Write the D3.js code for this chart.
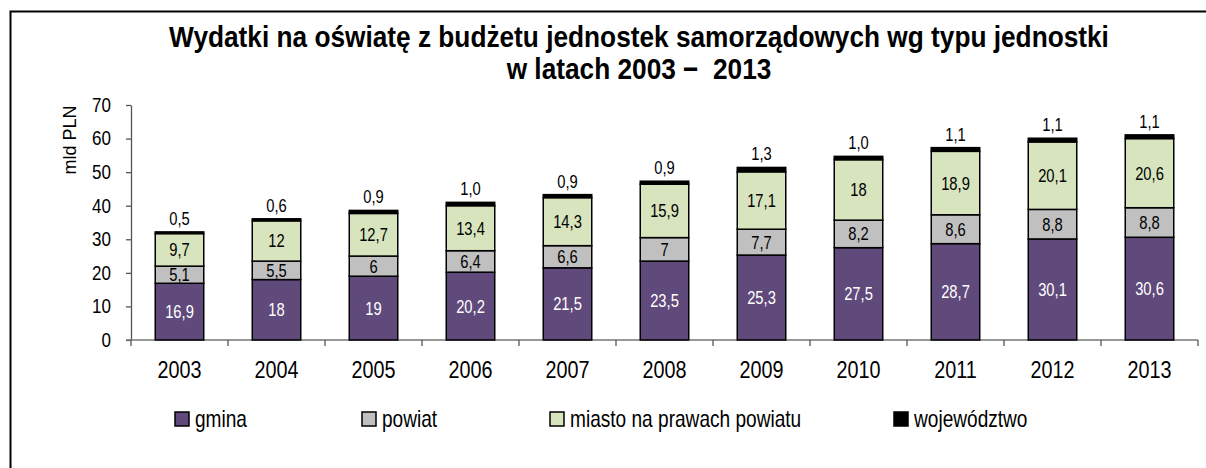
<!DOCTYPE html>
<html>
<head>
<meta charset="utf-8">
<script src="https://cdn.jsdelivr.net/npm/d3@7"></script>
<style>
  body { margin: 0; background: #fff; }
  text { font-family: "Liberation Sans", Arial, sans-serif; }
</style>
</head>
<body>
<script>
var years = ['2003', '2004', '2005', '2006', '2007', '2008', '2009', '2010', '2011', '2012', '2013'];
var gmina = [16.9, 18, 19, 20.2, 21.5, 23.5, 25.3, 27.5, 28.7, 30.1, 30.6];
var powiat = [5.1, 5.5, 6, 6.4, 6.6, 7, 7.7, 8.2, 8.6, 8.8, 8.8];
var miasto = [9.7, 12, 12.7, 13.4, 14.3, 15.9, 17.1, 18, 18.9, 20.1, 20.6];
var wojewodztwo = [0.5, 0.6, 0.9, 1.0, 0.9, 0.9, 1.3, 1.0, 1.1, 1.1, 1.1];
var seriesNames = ['gmina', 'powiat', 'miasto na prawach powiatu', 'województwo'];
var seriesColors = ['#604a7b', '#c0c0c0', '#d7e4bd', '#000000'];
var yTicks = [0, 10, 20, 30, 40, 50, 60, 70];

var W = 1206, H = 468;

var svg = d3.select('body').append('svg')
  .attr('width', W)
  .attr('height', H);

// outer frame
svg.append('rect')
  .attr('x', 10.5).attr('y', 11.5)
  .attr('width', 1400).attr('height', 700)
  .attr('fill', 'none')
  .attr('stroke', '#000')
  .attr('stroke-width', 2);

// text in the reference is squeezed horizontally, sx is the squeeze
function label(g, x, y, txt, sx) {
  return g.append('text')
    .attr('transform', 'translate(' + x + ',' + y + ') scale(' + sx + ',1)')
    .text(txt);
}

// title
label(svg, 639, 47, 'Wydatki na oświatę z budżetu jednostek samorządowych wg typu jednostki', 0.875)
  .attr('text-anchor', 'middle').style('font-size', '30px').style('font-weight', 'bold');
label(svg, 639, 79, 'w latach 2003 −  2013', 0.875)
  .attr('text-anchor', 'middle').style('font-size', '30px').style('font-weight', 'bold')
  .style('white-space', 'pre');

var data = years.map(function (y, i) {
  return { year: y, gmina: gmina[i], powiat: powiat[i], miasto: miasto[i], woj: wojewodztwo[i] };
});
var keys = ['gmina', 'powiat', 'miasto', 'woj'];
var stacked = d3.stack().keys(keys)(data);

var x = d3.scaleBand()
  .domain(years)
  .range([131, 1198])
  .paddingInner(0.5)
  .paddingOuter(0.25);

var y = d3.scaleLinear()
  .domain([0, 70])
  .range([340, 105]);

// y axis
var ysx = 0.85;
var yAxis = svg.append('g')
  .attr('transform', 'translate(131,0)')
  .call(d3.axisLeft(y).tickValues(yTicks).tickSize(5).tickPadding(20).tickSizeOuter(0));
yAxis.select('.domain').attr('stroke', '#555').attr('stroke-width', 1.3);
yAxis.selectAll('.tick line').attr('stroke', '#555').attr('stroke-width', 1.3);
yAxis.selectAll('.tick text')
  .attr('x', -20 / ysx)
  .attr('transform', 'scale(' + ysx + ',1)')
  .style('font-size', '20px')
  .attr('fill', '#000');

svg.append('text')
  .attr('transform', 'translate(76,140) rotate(-90)')
  .attr('text-anchor', 'middle')
  .style('font-size', '18px')
  .text('mld PLN');

// x axis line and boundary ticks
var step = x.step();
var bounds = years.map(function (yr) { return x(yr) - x.paddingOuter() * step; });
bounds.push(x.range()[1]);
var xAxis = svg.append('g');
xAxis.append('line')
  .attr('x1', 126).attr('x2', x.range()[1])
  .attr('y1', y(0)).attr('y2', y(0))
  .attr('stroke', '#777').attr('stroke-width', 1.5);
xAxis.selectAll('.btick')
  .data(bounds)
  .enter()
  .append('line')
  .attr('class', 'btick')
  .attr('x1', function (d) { return d; })
  .attr('x2', function (d) { return d; })
  .attr('y1', y(0))
  .attr('y2', y(0) + 6)
  .attr('stroke', '#555').attr('stroke-width', 1.3);
xAxis.selectAll('.xlab')
  .data(years)
  .enter()
  .append('text')
  .attr('class', 'xlab')
  .attr('text-anchor', 'middle')
  .attr('transform', function (d) {
    return 'translate(' + (x(d) + x.bandwidth() / 2) + ',378) scale(0.86,1)';
  })
  .style('font-size', '23px')
  .text(function (d) { return d; });

// bars
var fmt = function (v) { return String(v).replace('.', ','); };
var layers = svg.selectAll('.layer')
  .data(stacked)
  .enter()
  .append('g')
  .attr('class', 'layer')
  .attr('fill', function (d, i) { return seriesColors[i]; });

layers.selectAll('rect')
  .data(function (d) { return d; })
  .enter()
  .append('rect')
  .attr('x', function (d) { return x(d.data.year); })
  .attr('width', x.bandwidth())
  .attr('y', function (d) { return y(d[1]); })
  .attr('height', function (d) { return y(d[0]) - y(d[1]); })
  .attr('stroke', '#000')
  .attr('stroke-width', 1.5);

// value labels
stacked.forEach(function (layer, li) {
  var g = svg.append('g');
  layer.forEach(function (d) {
    var cx = x(d.data.year) + x.bandwidth() / 2;
    var val = d.data[layer.key];
    var txt = layer.key === 'woj' ? val.toFixed(1).replace('.', ',') : fmt(val);
    var ty = layer.key === 'woj' ? y(d[1]) - 7 : (y(d[0]) + y(d[1])) / 2 + 6.5;
    label(g, cx, ty, txt, 0.82)
      .attr('text-anchor', 'middle')
      .style('font-size', '18px')
      .attr('fill', li === 0 ? '#fff' : '#000');
  });
});

// legend
var legendX = [175, 362, 550, 894];
var legend = svg.append('g');
seriesNames.forEach(function (name, i) {
  legend.append('rect')
    .attr('x', legendX[i]).attr('y', 412)
    .attr('width', 14).attr('height', 14)
    .attr('fill', seriesColors[i])
    .attr('stroke', '#000')
    .attr('stroke-width', 1.5);
  label(legend, legendX[i] + 20, 427, name, 0.83)
    .style('font-size', '23px');
});
</script>
</body>
</html>
